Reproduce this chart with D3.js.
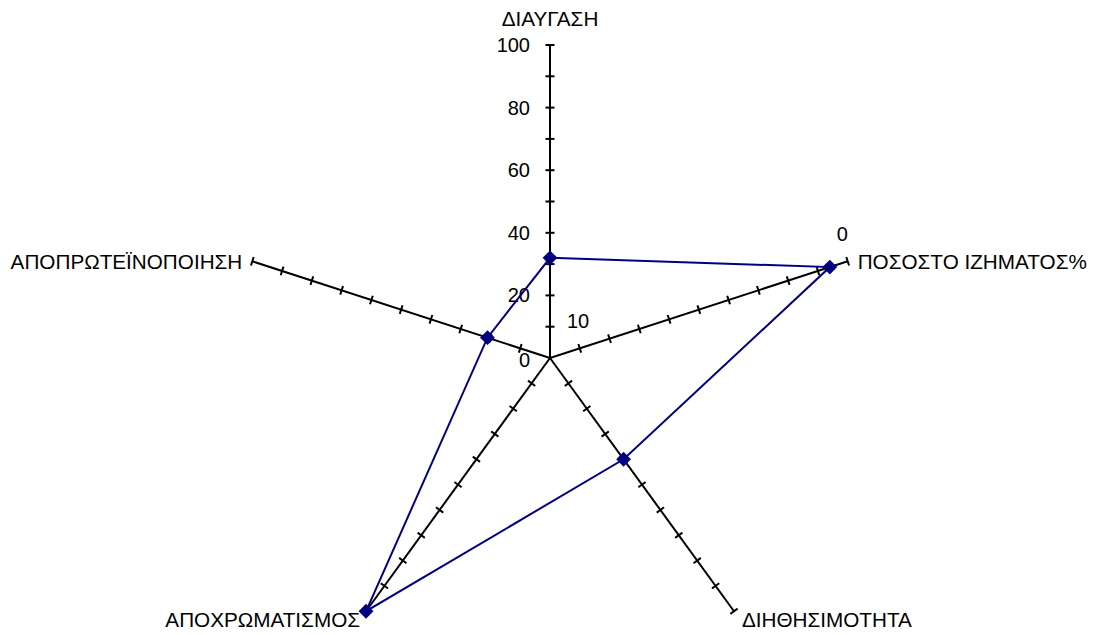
<!DOCTYPE html>
<html>
<head>
<meta charset="utf-8">
<script src="https://cdn.jsdelivr.net/npm/d3@7"></script>
<style>
  html, body { margin: 0; padding: 0; background: #fff; }
  svg text { font-family: "Liberation Sans", Arial, sans-serif; fill: #000; }
</style>
</head>
<body>
<svg id="chart" width="1097" height="635"></svg>
<script>
// Radar categories (clockwise from the top) and the measured values
const categories = ["ΔΙΑΥΓΑΣΗ", "ΠΟΣΟΣΤΟ ΙΖΗΜΑΤΟΣ%", "ΔΙΗΘΗΣΙΜΟΤΗΤΑ", "ΑΠΟΧΡΩΜΑΤΙΣΜΟΣ", "ΑΠΟΠΡΩΤΕΪΝΟΠΟΙΗΣΗ"];
const values = [32, 94, 40, 100, 21];
const tickLabels = [0, 20, 40, 60, 80, 100];
const tickMarks = [10, 20, 30, 40, 50, 60, 70, 80, 90, 100];

const svg = d3.select("#chart");
const cx = 550, cy = 358, R = 313;
const fontSize = 20;
const catFontSize = 20.7;

const r = d3.scaleLinear().domain([0, 100]).range([0, R]);
const angle = d3.scaleLinear().domain([0, categories.length]).range([-Math.PI / 2, 1.5 * Math.PI]);

const pt = (i, v) => [cx + r(v) * Math.cos(angle(i)), cy + r(v) * Math.sin(angle(i))];

// Axes with a cross tick every 10 units
const axes = svg.append("g");
categories.forEach((c, i) => {
  const [x2, y2] = pt(i, 100);
  axes.append("line")
    .attr("x1", cx).attr("y1", cy).attr("x2", x2).attr("y2", y2)
    .attr("stroke", "#000").attr("stroke-width", 2);
  const a = angle(i);
  const px = -Math.sin(a), py = Math.cos(a);
  tickMarks.forEach(t => {
    const [tx, ty] = pt(i, t);
    axes.append("line")
      .attr("x1", tx - px * 4.5).attr("y1", ty - py * 4.5)
      .attr("x2", tx + px * 4.5).attr("y2", ty + py * 4.5)
      .attr("stroke", "#000").attr("stroke-width", 2);
  });
});

// Value labels along the top axis
svg.append("g").selectAll("text").data(tickLabels).join("text")
  .attr("x", cx - 20)
  .attr("y", d => pt(0, d)[1] + (d === 0 ? 2 : 0))
  .attr("dy", "0.35em")
  .attr("text-anchor", "end")
  .attr("font-size", fontSize)
  .text(d => d);

svg.append("text")
  .attr("x", cx + 17).attr("y", pt(0, 10)[1] - 6)
  .attr("dy", "0.35em").attr("font-size", fontSize)
  .text("10");
svg.append("text")
  .attr("x", pt(1, 100)[0] - 11).attr("y", pt(1, 100)[1] - 27)
  .attr("dy", "0.35em").attr("font-size", fontSize)
  .text("0");

// Category labels at the axis ends
const labelPos = [
  { dx: 0, dy: 0, anchor: "middle" },
  { dx: 10, dy: 0, anchor: "start" },
  { dx: 8, dy: 9, anchor: "start" },
  { dx: -6, dy: 9, anchor: "end" },
  { dx: -10, dy: 0, anchor: "end" }
];
svg.append("g").selectAll("text").data(categories).join("text")
  .attr("x", (d, i) => i === 0 ? cx : pt(i, 100)[0] + labelPos[i].dx)
  .attr("y", (d, i) => i === 0 ? 19 : pt(i, 100)[1] + labelPos[i].dy)
  .attr("dy", "0.35em")
  .attr("text-anchor", (d, i) => labelPos[i].anchor)
  .attr("font-size", catFontSize)
  .text(d => d);

// Data series
const line = d3.lineRadial()
  .angle((d, i) => angle(i) + Math.PI / 2)
  .radius(d => r(d))
  .curve(d3.curveLinearClosed);

const series = svg.append("g").attr("transform", `translate(${cx},${cy})`);
series.append("path")
  .datum(values)
  .attr("d", line)
  .attr("fill", "none")
  .attr("stroke", "#000080")
  .attr("stroke-width", 2);

series.selectAll("path.m").data(values).join("path")
  .attr("class", "m")
  .attr("d", d3.symbol(d3.symbolSquare, 110))
  .attr("transform", (d, i) => {
    const a = angle(i);
    return `translate(${r(d) * Math.cos(a)},${r(d) * Math.sin(a)}) rotate(45)`;
  })
  .attr("fill", "#000080");
</script>
</body>
</html>
